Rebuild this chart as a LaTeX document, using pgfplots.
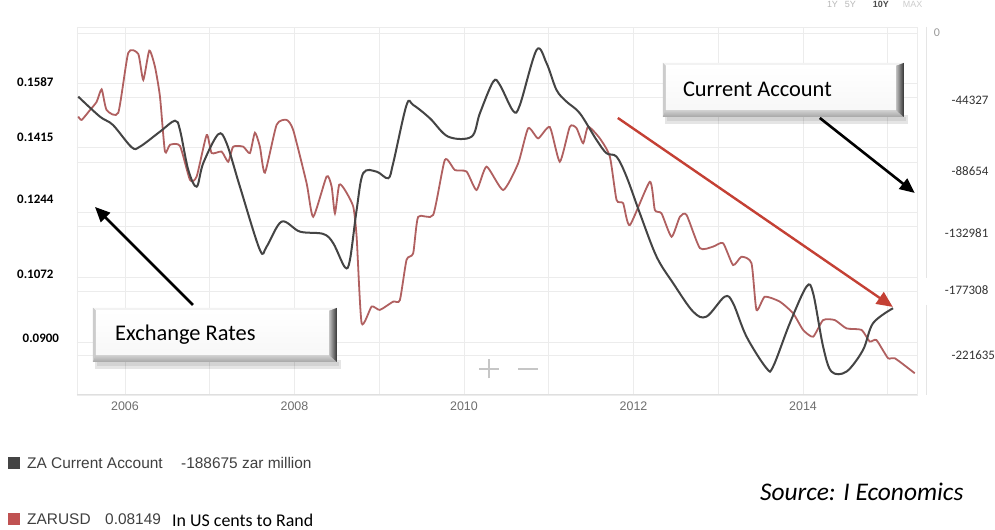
\documentclass[border=0pt]{standalone}
\usepackage{pgfplots}
\pgfplotsset{compat=1.18}
\usepackage{fontspec}
\setmainfont{Liberation Sans}
\newfontfamily\calfont{Carlito}
\usetikzlibrary{arrows.meta}
\definecolor{cablack}{RGB}{68,68,68}
\definecolor{zarred}{RGB}{176,96,96}
\definecolor{legred}{RGB}{192,82,82}
\definecolor{arrowred}{RGB}{196,64,52}
\definecolor{gridc}{RGB}{236,236,236}
\definecolor{tickgray}{RGB}{110,110,110}

\pgfplotstableread{
year    zar
2005.449 0.1498
2005.489 0.1489
2005.587 0.1515
2005.666 0.1537
2005.725 0.1570
2005.784 0.1515
2005.921 0.1508
2006.039 0.1667
2006.157 0.1664
2006.216 0.1595
2006.287 0.1673
2006.354 0.1630
2006.413 0.1551
2006.472 0.1405
2006.531 0.1423
2006.649 0.1420
2006.767 0.1330
2006.846 0.1339
2006.964 0.1449
2007.023 0.1401
2007.140 0.1405
2007.218 0.1378
2007.277 0.1418
2007.395 0.1418
2007.474 0.1401
2007.533 0.1455
2007.592 0.1418
2007.651 0.1349
2007.789 0.1476
2007.907 0.1489
2007.985 0.1462
2008.143 0.1321
2008.221 0.1232
2008.379 0.1339
2008.438 0.1312
2008.477 0.1241
2008.527 0.1317
2008.595 0.1303
2008.693 0.1259
2008.733 0.1179
2008.792 0.0950
2008.910 0.0994
2009.007 0.0985
2009.164 0.1007
2009.243 0.1011
2009.322 0.1118
2009.400 0.1135
2009.459 0.1232
2009.636 0.1237
2009.774 0.1383
2009.892 0.1356
2010.030 0.1352
2010.148 0.1303
2010.266 0.1365
2010.462 0.1303
2010.639 0.1374
2010.757 0.1467
2010.874 0.1440
2011.012 0.1470
2011.130 0.1378
2011.248 0.1471
2011.327 0.1467
2011.405 0.1427
2011.464 0.1471
2011.602 0.1440
2011.720 0.1392
2011.799 0.1277
2011.877 0.1268
2011.956 0.1210
2012.192 0.1325
2012.251 0.1250
2012.330 0.1241
2012.448 0.1179
2012.546 0.1232
2012.625 0.1237
2012.782 0.1149
2012.939 0.1153
2013.056 0.1162
2013.174 0.1104
2013.273 0.1126
2013.391 0.1109
2013.450 0.0985
2013.548 0.1020
2013.725 0.1007
2013.882 0.0976
2014.000 0.0932
2014.118 0.0914
2014.236 0.0958
2014.374 0.0958
2014.512 0.0936
2014.689 0.0932
2014.786 0.0901
2014.865 0.0905
2015.002 0.0857
2015.081 0.0857
2015.317 0.0817
}\zartable

\pgfplotstableread{
year    ca
2005.449 -43711
2005.705 -57435
2005.858 -63130
2006.079 -78433
2006.177 -78021
2006.413 -67728
2006.590 -60180
2006.649 -66561
2006.747 -94009
2006.846 -105469
2006.923 -89412
2007.100 -69512
2007.199 -75688
2007.356 -105469
2007.592 -148905
2007.671 -146641
2007.848 -129486
2008.064 -136348
2008.339 -137926
2008.457 -144308
2008.595 -160777
2008.654 -155767
2008.733 -121457
2008.810 -96274
2008.968 -95176
2009.105 -99705
2009.164 -89412
2009.322 -49406
2009.400 -49406
2009.597 -58533
2009.813 -71159
2010.089 -71159
2010.187 -55102
2010.344 -33418
2010.423 -35682
2010.580 -53524
2010.659 -49406
2010.856 -11665
2010.974 -20792
2011.091 -39113
2011.209 -47142
2011.366 -55102
2011.563 -73423
2011.681 -82550
2011.799 -84883
2011.917 -98607
2012.074 -123722
2012.271 -153503
2012.467 -171756
2012.702 -191244
2012.860 -194675
2013.076 -180951
2013.174 -185480
2013.332 -208399
2013.568 -230083
2013.646 -228985
2013.843 -199204
2014.040 -174089
2014.118 -178618
2014.236 -215261
2014.335 -232416
2014.512 -232416
2014.707 -217525
2014.825 -199204
2015.061 -188911
}\catable

\newcommand{\bevelbox}[4]{%
  \fill[black, opacity=0.10] (#1+2,#2-7) rectangle (#3+4,#2+2);
  \fill[black, opacity=0.08] (#1+4,#2-4) rectangle (#3+2,#2);
  \fill[gray!60] (#1,#2) rectangle (#3,#4);
  \fill[gray!10] (#1,#4) -- (#3,#4) -- (#3-8,#4-3) -- (#1+3,#4-3) -- cycle;
  \fill[gray!40] (#1,#2) -- (#1,#4) -- (#1+3,#4-3) -- (#1+3,#2+7) -- cycle;
  \shade[top color=gray!35, bottom color=gray!70] (#1,#2) -- (#3,#2) -- (#3-8,#2+7) -- (#1+3,#2+7) -- cycle;
  \shade[left color=gray!45, right color=black!80] (#3,#2) -- (#3,#4) -- (#3-8,#4-3) -- (#3-8,#2+7) -- cycle;
  \shade[top color=white, bottom color=gray!6] (#1+3,#2+7) rectangle (#3-8,#4-3);
}

\begin{document}
\begin{tikzpicture}[x=1bp,y=1bp]
\fill[white] (0,0) rectangle (995,530);

% range selector at the very top
\node[anchor=base west, inner sep=0, text=gray!55, font=\fontsize{9}{9}\selectfont] at (827,522) {1Y};
\node[anchor=base west, inner sep=0, text=gray!55, font=\fontsize{9}{9}\selectfont] at (845,522) {5Y};
\node[anchor=base west, inner sep=0, text=black!70, font=\bfseries\fontsize{9}{9}\selectfont] at (873,522) {10Y};
\node[anchor=base west, inner sep=0, text=gray!40, font=\fontsize{9}{9}\selectfont] at (903,522) {MAX};

% right axis: grid and labels
\begin{axis}[
  at={(77bp,135bp)}, anchor=south west, scale only axis,
  width=840bp, height=368bp,
  xmin=2005.434, xmax=2015.341, ymin=-248404, ymax=4117,
  axis y line*=right,
  axis x line*=bottom,
  x axis line style={draw=none},
  y axis line style={draw=none},
  xtick=\empty,
  scaled y ticks=false,
  ytick={-221635,-177308,-132981,-88654,-44327,0},
  yticklabels={\raisebox{1bp}{-221635},\hspace*{-6.7bp}\raisebox{1.4bp}{-177308},\hspace*{-6.7bp}\raisebox{-6.5bp}{-132981},\raisebox{-9.5bp}{-88654},\raisebox{-2.4bp}{-44327},{}},
  ymajorgrids, grid style={gridc, line width=0.8bp},
  major tick length=0pt,
  yticklabel style={anchor=base west, inner sep=0pt, xshift=34.7bp, yshift=-4.2bp, text=black!80,
    font=\calfont\fontsize{13}{13}\selectfont},
]
\end{axis}

% left axis: ZARUSD
\begin{axis}[
  at={(77bp,135bp)}, anchor=south west, scale only axis,
  width=840bp, height=368bp,
  xmin=2005.434, xmax=2015.341, ymin=0.07596, ymax=0.17355,
  axis line style={draw=gridc},
  scaled y ticks=false,
  xtick={2006,2007,...,2015},
  xticklabels={2006,,2008,,2010,,2012,,2014,},
  ytick={0.0900,0.1072,0.1244,0.1415,0.1587},
  yticklabels={\hspace*{5.5bp}\raisebox{4bp}{0.0900},\raisebox{3bp}{0.1072},\raisebox{13bp}{0.1244},\raisebox{11bp}{0.1415},\raisebox{1bp}{0.1587}},
  xmajorgrids, ymajorgrids, grid style={gridc, line width=0.8bp},
  major tick length=0pt,
  xticklabel style={text=tickgray, font=\fontsize{12.5}{12.5}\selectfont, yshift=-3bp},
  yticklabel style={anchor=base west, inner sep=0pt, xshift=-60bp, yshift=-4.2bp, text=black,
    font=\calfont\bfseries\fontsize{13}{13}\selectfont},
]
\addplot[zarred, line width=1.8bp, smooth, tension=0.35] table[x=year, y=zar] {\zartable};
\end{axis}

% hidden right axis: current account line
\begin{axis}[
  at={(77bp,135bp)}, anchor=south west, scale only axis,
  width=840bp, height=368bp,
  xmin=2005.434, xmax=2015.341, ymin=-248404, ymax=4117,
  axis lines=none, ticks=none,
]
\addplot[cablack, line width=2bp, smooth, tension=0.55] table[x=year, y=ca] {\catable};
\end{axis}

% axis decorations
\draw[gray!25, line width=0.8bp] (77,135) -- (917,135);
\draw[gray!20, line width=0.8bp] (927,503) -- (927,252);
\draw[gray!20, line width=0.8bp] (927,225) -- (927,135);
\node[anchor=west, inner sep=0, text=gray!80, font=\calfont\fontsize{12}{12}\selectfont] at (934,497) {0};

% zoom icons
\draw[gray!45, line width=2.5bp] (479.5,161) -- (499,161);
\draw[gray!45, line width=2.5bp] (489.3,151.5) -- (489.3,171);
\draw[gray!45, line width=2.5bp] (518.5,161) -- (538,161);

% annotation boxes
\bevelbox{93}{168}{337}{222}
\node[anchor=west, inner sep=0, font=\calfont\fontsize{22.5}{22.5}\selectfont] at (115,195) {Exchange Rates};
\bevelbox{663}{413}{904}{467}
\node[anchor=west, inner sep=0, font=\calfont\fontsize{22.5}{22.5}\selectfont] at (683,441) {Current Account};

% arrows
\draw[black, line width=2.6bp, -{Triangle[length=15bp, width=13bp]}] (193,225) -- (95,323);
\draw[black, line width=2.6bp, -{Triangle[length=15bp, width=13bp]}] (820,412) -- (915,337);
\draw[arrowred, line width=2.4bp, -{Triangle[length=16bp, width=14bp]}] (618,412) -- (893,223);

% legend
\fill[cablack] (8,61) rectangle (20,73);
\node[anchor=west, inner sep=0, text=black!75, font=\fontsize{15.5}{15.5}\selectfont] at (27,67) {ZA Current Account};
\node[anchor=west, inner sep=0, text=black!75, font=\fontsize{15.5}{15.5}\selectfont] at (181,67) {-188675 zar million};
\fill[legred] (8,5) rectangle (20,17);
\node[anchor=west, inner sep=0, text=black!75, font=\fontsize{15.5}{15.5}\selectfont] at (27,11) {ZARUSD};
\node[anchor=west, inner sep=0, text=black!75, font=\fontsize{15.5}{15.5}\selectfont] at (105,11) {0.08149};
\node[anchor=west, inner sep=0, text=black, font=\calfont\fontsize{18}{18}\selectfont] at (172,10) {In US cents to Rand};

% source
\node[anchor=center, inner sep=0, font=\calfont\itshape\fontsize{25.5}{25.5}\selectfont] at (862,38) {Source: I Economics};
\end{tikzpicture}
\end{document}
